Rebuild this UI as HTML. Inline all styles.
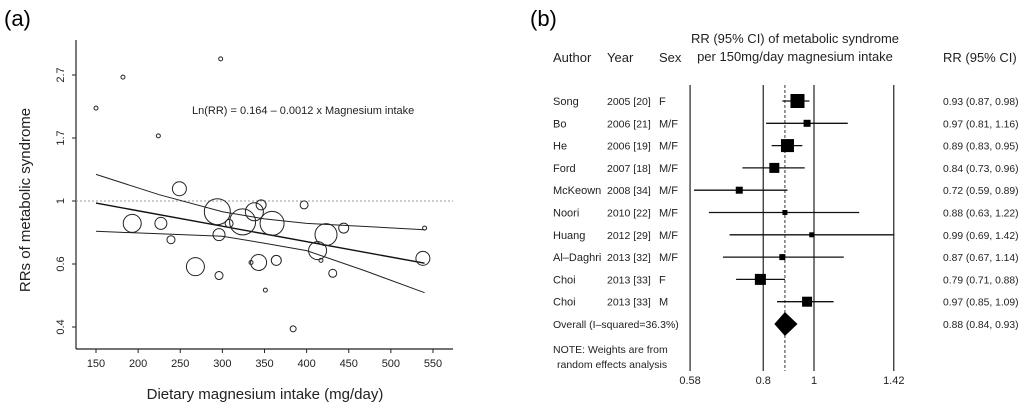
<!DOCTYPE html>
<html><head><meta charset="utf-8">
<style>
html,body{margin:0;padding:0;background:#fff;}
svg{display:block;font-family:"Liberation Sans",sans-serif;}
</style></head>
<body>
<svg id="fig" width="1024" height="409" viewBox="0 0 1024 409" xmlns="http://www.w3.org/2000/svg">
<text x="4" y="26" font-size="22">(a)</text>
<text x="530" y="26" font-size="22">(b)</text>
<g id="pa"></g>
<g id="pb"></g>
</svg>
<script>
// ---- Panel (a) data ----
const aXTicks = [150,200,250,300,350,400,450,500,550];
const aYTicks = [0.4,0.6,1,1.7,2.7];
const aYTickPos = [-2,-1,0,1,2]; // tick index on log scale
const aIntercept = 0.164;
const aSlope = -0.0012;
const aPtsX = [150,182,298,224,249,193,227,239,294,308,296,268,296,324,338,346,359,343,334,364,351,384,397,423,413,417,431,444,538,540];
const aPtsRR = [2.06,2.62,3.02,1.66,1.10,0.84,0.84,0.74,0.92,0.84,0.77,0.60,0.56,0.85,0.92,0.97,0.84,0.62,0.62,0.63,0.50,0.37,0.97,0.77,0.68,0.63,0.57,0.81,0.64,0.81];
const aPtsW = [2,2,2,2,7,9,6,4,13,4,6,9,4,13,9,5,12,8,2,5,2,3,4,11,9,2,4,5,7,2];
const aBandX = [150,225,300,350,400,470,540];
const aBandUp = [1.23,1.05,0.92,0.87,0.84,0.82,0.80];
const aBandLo = [0.79,0.775,0.76,0.72,0.68,0.58,0.49];

// ---- Panel (b) data ----
const bAuthors = ["Song","Bo","He","Ford","McKeown","Noori","Huang","Al\u2013Daghri","Choi","Choi"];
const bYears = ["2005 [20]","2006 [21]","2006 [19]","2007 [18]","2008 [34]","2010 [22]","2012 [29]","2013 [32]","2013 [33]","2013 [33]"];
const bSex = ["F","M/F","M/F","M/F","M/F","M/F","M/F","M/F","F","M"];
const bRR = [0.93,0.97,0.89,0.84,0.72,0.88,0.99,0.87,0.79,0.97];
const bLo = [0.87,0.81,0.83,0.73,0.59,0.63,0.69,0.67,0.71,0.85];
const bHi = [0.98,1.16,0.95,0.96,0.89,1.22,1.42,1.14,0.88,1.09];
const bWeight = [14,7,13,10,7,5,5,6,11,10];
const bOverall = [0.88,0.84,0.93];
const bTicks = [0.58,0.8,1,1.42];

const NS="http://www.w3.org/2000/svg";
function mk(parent,tag,attrs,text){const e=document.createElementNS(NS,tag);for(const k in attrs)e.setAttribute(k,attrs[k]);if(text!==undefined)e.textContent=text;parent.appendChild(e);return e;}
const fmt=v=>v.toFixed(2);

// Panel (a)
const pa=document.getElementById('pa');
const ax=v=>96+(v-150)*0.8425;
const STEP=0.49, PX=63;
const ay=v=>201-Math.log(v)/STEP*PX;
let e;
e=mk(pa,'line',{x1:76,y1:40,x2:76,y2:349,stroke:'#222','stroke-width':1.2});


e=mk(pa,'line',{x1:76,y1:349,x2:453,y2:349,stroke:'#222','stroke-width':1.2});


aXTicks.forEach(t=>{
  mk(pa,'line',{x1:ax(t),y1:349,x2:ax(t),y2:353,stroke:'#222'});
  e=mk(pa,'text',{x:ax(t),y:367,'font-size':11,'text-anchor':'middle',fill:'#222'},String(t));
  
  
});
aYTicks.forEach((t,i)=>{
  const y=201-aYTickPos[i]*PX;
  mk(pa,'line',{x1:72,y1:y,x2:76,y2:y,stroke:'#222'});
  e=mk(pa,'text',{x:64,y:y,'font-size':11,'text-anchor':'middle',fill:'#222',transform:`rotate(-90 64 ${y})`},String(t));
  
  
});
e=mk(pa,'line',{x1:76,y1:ay(1),x2:453,y2:ay(1),stroke:'#999','stroke-dasharray':'2,2'});


e=mk(pa,'text',{x:30,y:200,'font-size':15,'text-anchor':'middle',fill:'#222',transform:'rotate(-90 30 200)'},'RRs of metabolic syndrome');


e=mk(pa,'text',{x:265,y:399,'font-size':15,'text-anchor':'middle',fill:'#222'},'Dietary magnesium intake (mg/day)');


e=mk(pa,'text',{x:192,y:114,'font-size':11,fill:'#222'},'Ln(RR) = 0.164 \u2013 0.0012 x Magnesium intake');


const band=arr=>'M'+aBandX.map((x,i)=>ax(x).toFixed(1)+','+ay(arr[i]).toFixed(1)).join(' L');
e=mk(pa,'path',{d:band(aBandUp),fill:'none',stroke:'#222','stroke-width':1});


e=mk(pa,'path',{d:band(aBandLo),fill:'none',stroke:'#222','stroke-width':1});


const x0=aBandX[0],x1=aBandX[aBandX.length-1];
e=mk(pa,'line',{x1:ax(x0),y1:ay(Math.exp(aIntercept+aSlope*x0)),x2:ax(x1),y2:ay(Math.exp(aIntercept+aSlope*x1)),stroke:'#111','stroke-width':1.4});


aPtsX.forEach((x,i)=>{
  e=mk(pa,'circle',{cx:ax(x),cy:ay(aPtsRR[i]),r:aPtsW[i],fill:'none',stroke:'#222','stroke-width':1});
  
  
});

// Panel (b)
const pb=document.getElementById('pb');
const bx=v=>814+Math.log(v)*227.5;
const rowY=i=>101+i*22.3;
[['Author',553],['Year',607],['Sex',659]].forEach(([t,x])=>{
  e=mk(pb,'text',{x:x,y:62,'font-size':13,fill:'#222'},t);
  
  
});
e=mk(pb,'text',{x:795,y:43,'font-size':13,'text-anchor':'middle',fill:'#222'},'RR (95% CI) of metabolic syndrome');


e=mk(pb,'text',{x:795,y:61,'font-size':13,'text-anchor':'middle',fill:'#222'},'per 150mg/day magnesium intake');


e=mk(pb,'text',{x:943,y:62,'font-size':13,fill:'#222'},'RR (95% CI)');


bTicks.forEach(t=>{
  e=mk(pb,'line',{x1:bx(t),y1:85,x2:bx(t),y2:371,stroke:'#222','stroke-width':1.2});
  
  
  e=mk(pb,'text',{x:bx(t),y:384,'font-size':11,'text-anchor':'middle',fill:'#222'},String(t));
  
  
});
e=mk(pb,'line',{x1:bx(bOverall[0]),y1:85,x2:bx(bOverall[0]),y2:371,stroke:'#333','stroke-dasharray':'3,2'});


bAuthors.forEach((a,i)=>{
  const y=rowY(i);
  e=mk(pb,'text',{x:553,y:y+4,'font-size':11,fill:'#222'},a);
  
  
  e=mk(pb,'text',{x:607,y:y+4,'font-size':10.5,fill:'#222'},bYears[i]);
  
  
  e=mk(pb,'text',{x:659,y:y+4,'font-size':11,fill:'#222'},bSex[i]);
  
  
  e=mk(pb,'text',{x:943,y:y+4,'font-size':10.3,fill:'#222'},`${fmt(bRR[i])} (${fmt(bLo[i])}, ${fmt(bHi[i])})`);
  
  
  e=mk(pb,'line',{x1:bx(bLo[i]),y1:y,x2:bx(bHi[i]),y2:y,stroke:'#111','stroke-width':1.3});
  
  
  const s=bWeight[i];
  e=mk(pb,'rect',{x:bx(bRR[i])-s/2,y:y-s/2,width:s,height:s,fill:'#000'});
  
  
});
const oy=rowY(10);
e=mk(pb,'text',{x:553,y:oy+4,'font-size':10.5,fill:'#222'},'Overall (I\u2013squared=36.3%)');


e=mk(pb,'text',{x:943,y:oy+4,'font-size':10.3,fill:'#222'},`${fmt(bOverall[0])} (${fmt(bOverall[1])}, ${fmt(bOverall[2])})`);


e=mk(pb,'polygon',{points:`${bx(bOverall[1])},${oy} ${bx(bOverall[0])},${oy-12} ${bx(bOverall[2])},${oy} ${bx(bOverall[0])},${oy+12}`,fill:'#000'});


e=mk(pb,'text',{x:553,y:353,'font-size':10.5,fill:'#222'},'NOTE: Weights are from');


e=mk(pb,'text',{x:557,y:368,'font-size':10.5,fill:'#222'},'random effects analysis');


</script>
</body></html>
